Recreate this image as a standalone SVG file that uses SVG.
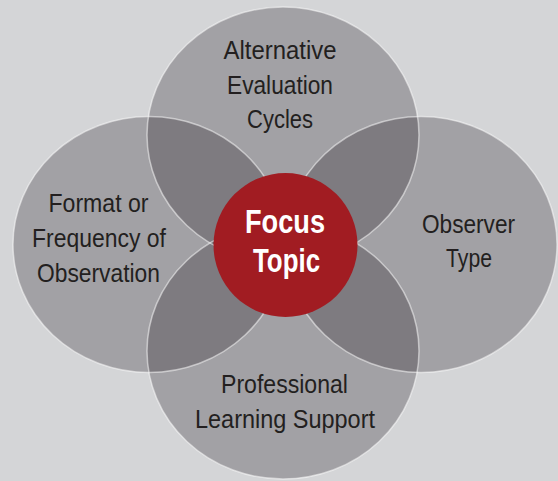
<svg xmlns="http://www.w3.org/2000/svg" width="558" height="481" viewBox="0 0 558 481">
  <style>
    .petal { fill: #1c181c; fill-opacity: 0.27; }
    .edge { fill: none; stroke: #ffffff; stroke-opacity: 0.5; stroke-width: 1.5; }
    .label { font-family: "Liberation Sans", Arial, sans-serif; font-size: 26.5px; fill: #231f20; text-anchor: middle; }
    .hub { fill: #a11c22; }
    .hub-label { font-family: "Liberation Sans", Arial, sans-serif; font-size: 32.5px; font-weight: bold; fill: #ffffff; text-anchor: middle; }
  </style>

  <rect width="558" height="481" fill="#d4d5d7"/>

  <!-- translucent petals; overlaps darken where two meet -->
  <g id="petal-fills">
    <ellipse class="petal" cx="283" cy="135" rx="136" ry="128"/>
    <ellipse class="petal" cx="149" cy="244.5" rx="136" ry="128"/>
    <ellipse class="petal" cx="421" cy="244.5" rx="136" ry="128"/>
    <ellipse class="petal" cx="283" cy="351" rx="136" ry="128"/>
  </g>

  <!-- petal outlines -->
  <g id="connectors">
    <ellipse class="edge" cx="283" cy="135" rx="136" ry="128"/>
    <ellipse class="edge" cx="149" cy="244.5" rx="136" ry="128"/>
    <ellipse class="edge" cx="421" cy="244.5" rx="136" ry="128"/>
    <ellipse class="edge" cx="283" cy="351" rx="136" ry="128"/>
  </g>

  <g id="alternative-evaluation-cycles">
    <text class="label" x="280" y="59" textLength="113" lengthAdjust="spacingAndGlyphs">Alternative</text>
    <text class="label" x="280" y="94" textLength="106" lengthAdjust="spacingAndGlyphs">Evaluation</text>
    <text class="label" x="280" y="128" textLength="66" lengthAdjust="spacingAndGlyphs">Cycles</text>
  </g>

  <g id="format-or-frequency">
    <text class="label" x="98.5" y="212" textLength="100" lengthAdjust="spacingAndGlyphs">Format or</text>
    <text class="label" x="99" y="247" textLength="134" lengthAdjust="spacingAndGlyphs">Frequency of</text>
    <text class="label" x="98.5" y="282" textLength="123" lengthAdjust="spacingAndGlyphs">Observation</text>
  </g>

  <g id="observer-type">
    <text class="label" x="468.5" y="233" textLength="93" lengthAdjust="spacingAndGlyphs">Observer</text>
    <text class="label" x="469" y="267" textLength="46" lengthAdjust="spacingAndGlyphs">Type</text>
  </g>

  <g id="professional-learning-support">
    <text class="label" x="284.5" y="393" textLength="127" lengthAdjust="spacingAndGlyphs">Professional</text>
    <text class="label" x="285" y="428" textLength="180" lengthAdjust="spacingAndGlyphs">Learning Support</text>
  </g>

  <g id="focus-topic">
    <circle class="hub" cx="285.5" cy="245" r="72"/>
    <text class="hub-label" x="285" y="233" textLength="80" lengthAdjust="spacingAndGlyphs">Focus</text>
    <text class="hub-label" x="286.5" y="272" textLength="67" lengthAdjust="spacingAndGlyphs">Topic</text>
  </g>
</svg>
